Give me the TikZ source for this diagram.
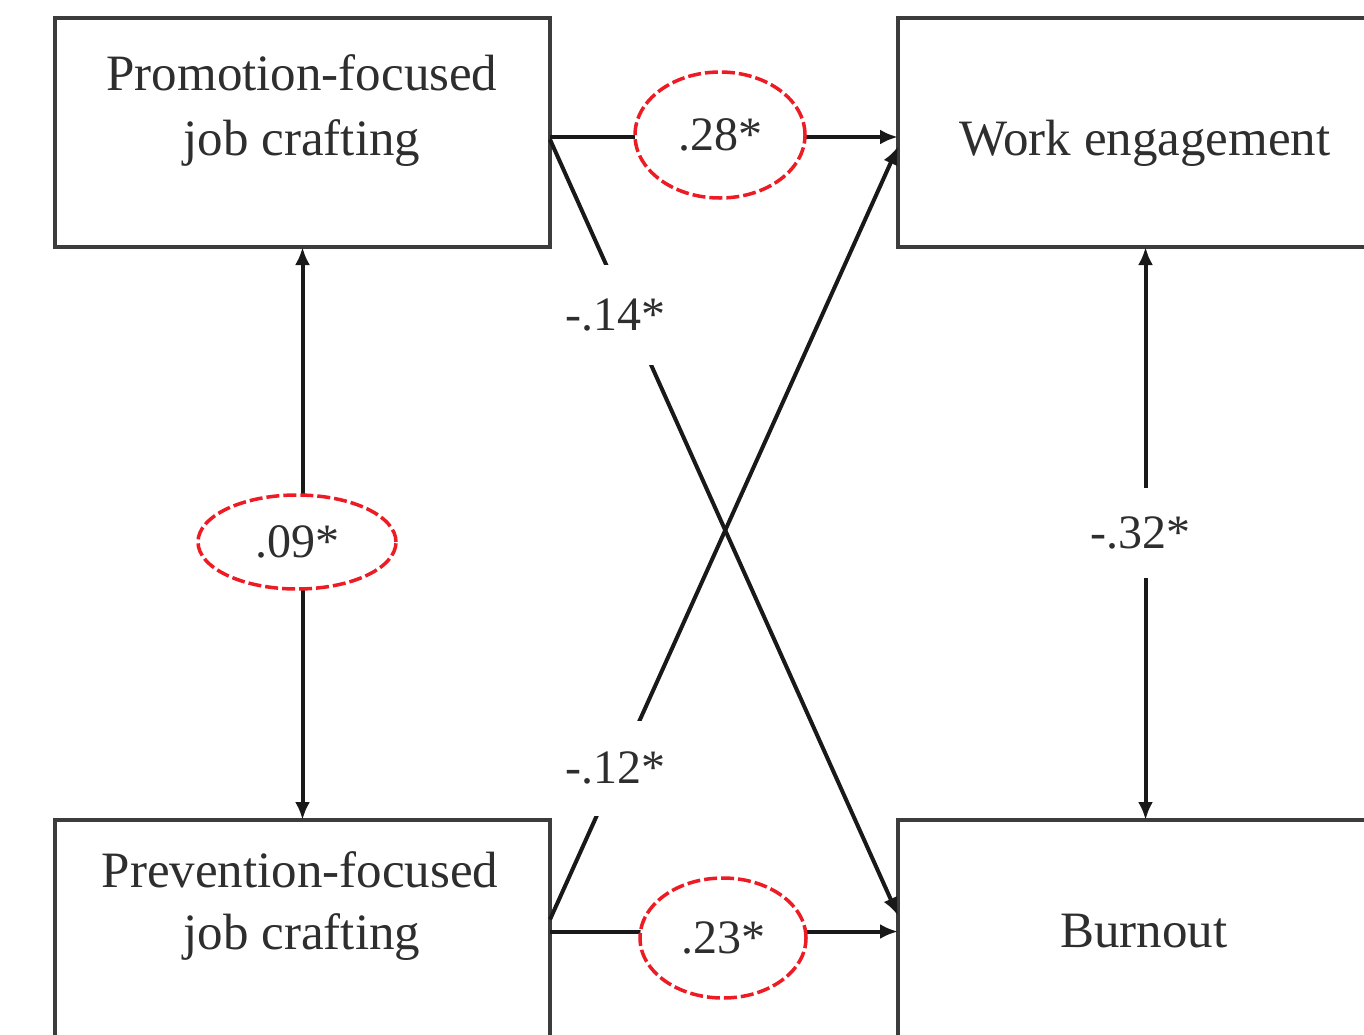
\documentclass[tikz,border=0pt]{standalone}
\usepackage{fontspec}
\setmainfont{Liberation Serif}
\usetikzlibrary{arrows.meta,shapes.geometric}
\definecolor{boxgray}{HTML}{3C3C3C}
\definecolor{txtgray}{HTML}{2E2E2E}
\definecolor{ovalred}{HTML}{ED1C24}
\begin{document}
\begin{tikzpicture}[x=1pt,y=-1pt,
  box/.style={draw=boxgray, line width=4pt, minimum width=495pt, minimum height=229pt, inner sep=0pt, outer sep=0pt},
  boxtext/.style={text=txtgray, font=\fontsize{51}{64}\selectfont, align=center, inner sep=0pt, anchor=base},
  conn/.style={draw=black!90, line width=4pt, -{Latex[length=18pt,width=15pt]}},
  dbl/.style={draw=black!90, line width=4pt, {Latex[length=18pt,width=15pt]}-{Latex[length=18pt,width=15pt]}},
  oval/.style={ellipse, draw=ovalred, line width=3.5pt, dash pattern=on 13pt off 4pt, fill=white, inner sep=0pt, text=txtgray, font=\fontsize{48}{56}\selectfont},
  coef/.style={fill=white, inner sep=0pt, text=txtgray, font=\fontsize{48}{56}\selectfont}
]
\clip (0,0) rectangle (1364,1034);
\fill[white] (0,0) rectangle (1364,1034);

% boxes
\node[box] (PF) at (302.5,132.5) {};
\node[box] (WE) at (1145.5,132.5) {};
\node[box] (PV) at (302.5,934.5) {};
\node[box] (BO) at (1145.5,934.5) {};

% box texts
\node[boxtext] (PFt1) at (302,90) {Promotion-focused};
\node[boxtext] (PFt2) at (302,155) {job crafting};
\node[boxtext] (WEt) at (1145,155) {Work engagement};
\node[boxtext] (PVt1) at (300,887) {Prevention-focused};
\node[boxtext] (PVt2) at (302,949) {job crafting};
\node[boxtext] (BOt) at (1144,947) {Burnout};

% connectors
\draw[conn] ([yshift=-4.5pt]PF.east) -- ([yshift=-4.5pt]WE.west);
\draw[conn] ([yshift=3pt]PV.east) -- ([yshift=3pt]BO.west);
\draw[conn] ([yshift=-7pt]PF.east) -- ([yshift=19pt]BO.west);
\draw[conn] ([yshift=15pt]PV.east) -- ([yshift=-14pt]WE.west);
\draw[dbl] (PF.south) -- (PV.north);
\draw[dbl] (WE.south) -- (BO.north);

% coefficient labels
\node[oval, minimum width=170pt, minimum height=126pt] (c28) at (720,135) {.28*};
\node[oval, minimum width=198pt, minimum height=94pt] (c09) at (297,542) {.09*};
\node[oval, minimum width=166pt, minimum height=120pt] (c23) at (723,938) {.23*};
\node[coef, minimum width=110pt, minimum height=100pt] (c14) at (615,315) {-.14*};
\node[coef, minimum width=110pt, minimum height=95pt] (c12) at (615,768) {-.12*};
\node[coef, minimum width=110pt, minimum height=90pt] (c32) at (1140,533) {-.32*};
\end{tikzpicture}
\end{document}
